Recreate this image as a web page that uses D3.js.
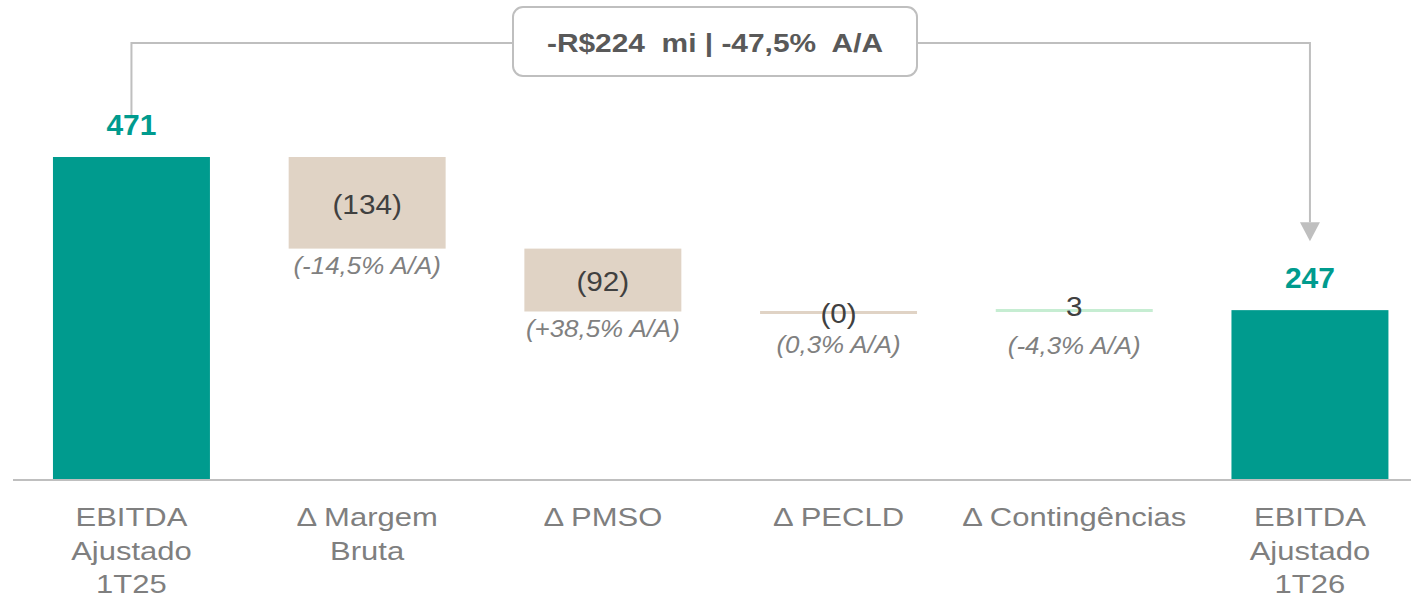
<!DOCTYPE html>
<html>
<head>
<meta charset="utf-8">
<script src="https://cdn.jsdelivr.net/npm/d3@7/dist/d3.min.js"></script>
<style>
  body { margin: 0; background: #fff; }
  text { font-family: "Liberation Sans", Arial, sans-serif; }
</style>
</head>
<body>
<svg class="chart"></svg>
<script>
const CHART_WIDTH = 1411;
const CHART_HEIGHT = 604;
const BASELINE = 479;

const CATEGORIES = [
  ["EBITDA", "Ajustado", "1T25"],
  ["\u0394 Margem", "Bruta"],
  ["\u0394 PMSO"],
  ["\u0394 PECLD"],
  ["\u0394 Contingências"],
  ["EBITDA", "Ajustado", "1T26"]
];
const KINDS = ["total", "delta", "delta", "delta", "delta", "total"];
const VALUES = [471, -134, -92, -0.3, 3, 247];
const VALUE_LABELS = ["471", "(134)", "(92)", "(0)", "3", "247"];
const YOY_LABELS = [null, "(-14,5% A/A)", "(+38,5% A/A)", "(0,3% A/A)", "(-4,3% A/A)", null];
const HEADLINE = "-R$224  mi | -47,5%  A/A";

const TEAL = "#009b8e";
const NEG = "#e0d3c5";
const POS = "#c6edd2";
const GRAY_LINE = "#bfbfbf";

let svg = d3.select('.chart')
            .attr("width", CHART_WIDTH)
            .attr("height", CHART_HEIGHT);

let x = d3.scaleBand()
          .domain(d3.range(CATEGORIES.length))
          .range([13.6, 1427.8])
          .paddingInner(0.334)
          .paddingOuter(0.167);

let y = d3.scaleLinear().domain([0, 471]).range([BASELINE, 157]);

// the source text is a bit wider than plain Arial, so stretch it horizontally
const addText = (cx, cy, txt, size, sx, fill, extra = {}) => {
  let t = svg.append("text")
             .attr("transform", `translate(${cx},${cy}) scale(${sx},1)`)
             .attr("text-anchor", "middle")
             .attr("font-size", size)
             .attr("fill", fill)
             .style("white-space", "pre")
             .text(txt);
  Object.entries(extra).forEach(([k, v]) => t.attr(k, v));
  return t;
};

// waterfall steps
let running = 0;
const steps = VALUES.map((v, i) => {
  let start, end;
  if (KINDS[i] === "total") {
    start = 0; end = v; running = v;
  } else {
    start = running; end = running + v; running = end;
  }
  return { i, v, start, end, kind: KINDS[i] };
});

// axis line
svg.append("line")
   .attr("x1", 13).attr("x2", CHART_WIDTH)
   .attr("y1", BASELINE + 1).attr("y2", BASELINE + 1)
   .attr("stroke", GRAY_LINE).attr("stroke-width", 2);

// bars
steps.forEach(d => {
  let top = y(Math.max(d.start, d.end));
  let bot = y(Math.min(d.start, d.end));
  let fill = d.kind === "total" ? TEAL : (d.v < 0 ? NEG : POS);
  if (bot - top < 3) {
    svg.append("rect")
       .attr("x", x(d.i)).attr("y", Math.round(y(d.end)) - 1)
       .attr("width", x.bandwidth()).attr("height", 3)
       .attr("fill", fill);
  } else {
    svg.append("rect")
       .attr("x", x(d.i)).attr("y", top)
       .attr("width", x.bandwidth()).attr("height", bot - top)
       .attr("fill", fill);
  }
});

// value labels
steps.forEach(d => {
  let cx = x(d.i) + x.bandwidth() / 2;
  let top = y(Math.max(d.start, d.end));
  let bot = y(Math.min(d.start, d.end));
  if (d.kind === "total") {
    addText(cx, top - 22, VALUE_LABELS[d.i], 30, 1, TEAL, { "font-weight": "bold" });
    return;
  }
  let tall = bot - top > 20;
  let ly, iy;
  if (tall) { ly = (top + bot) / 2 + 11; iy = bot + 25; }
  else if (d.v < 0) { ly = y(d.end) + 11; iy = y(d.end) + 41; }
  else { ly = y(d.end) + 6; iy = y(d.end) + 44; }
  addText(cx, ly, VALUE_LABELS[d.i], 27, 1.1, "#404040");
  addText(cx, iy, YOY_LABELS[d.i], 24, 1.08, "#808080", { "font-style": "italic" });
});

// category labels
CATEGORIES.forEach((lines, i) => {
  lines.forEach((ln, k) => {
    addText(x(i) + x.bandwidth() / 2, 526 + k * 33.5, ln, 25, 1.24, "#7f7f7f");
  });
});

// headline bracket
const xa = x(0) + x.bandwidth() / 2;
const xb = x(5) + x.bandwidth() / 2;
const bracketY = 43;
svg.append("path")
   .attr("d", `M${xa},${y(471) - 42} V${bracketY} H${xb} V${y(247) - 88}`)
   .attr("fill", "none")
   .attr("stroke", GRAY_LINE).attr("stroke-width", 2);
svg.append("path")
   .attr("d", `M${xb - 10},${y(247) - 88} L${xb + 10},${y(247) - 88} L${xb},${y(247) - 69} Z`)
   .attr("fill", GRAY_LINE);

svg.append("rect")
   .attr("x", 513).attr("y", 7)
   .attr("width", 404).attr("height", 69)
   .attr("rx", 10)
   .attr("fill", "#fff")
   .attr("stroke", GRAY_LINE).attr("stroke-width", 2);
addText(715, 52, HEADLINE, 26, 1.15, "#595959", { "font-weight": "bold" });
</script>
</body>
</html>
